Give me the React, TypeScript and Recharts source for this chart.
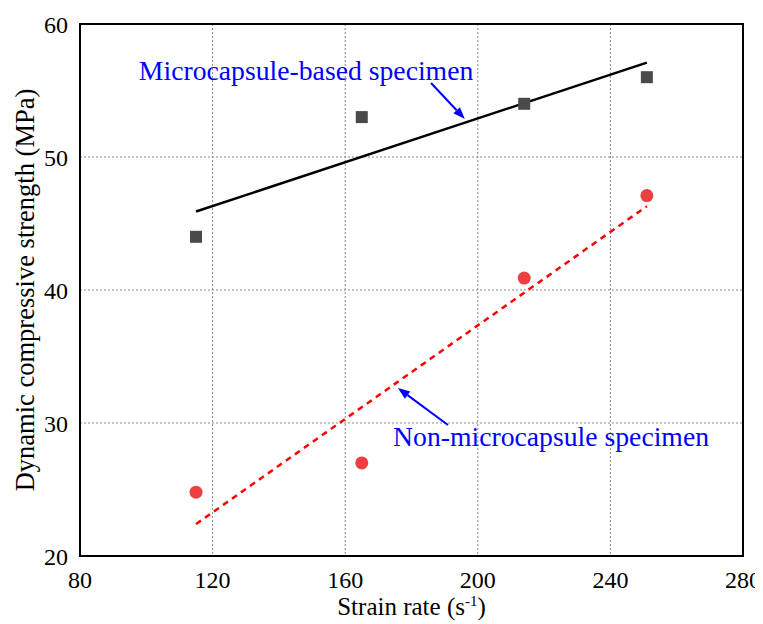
import React from 'react';
import {
  ComposedChart, Scatter, XAxis, YAxis, CartesianGrid, ReferenceArea, ReferenceLine, ReferenceDot, Label,
} from 'recharts';

const strainRate = [115, 165, 214, 251];
const microStrength = [44, 53, 54, 56];
const nonStrength = [24.8, 27, 40.9, 47.1];
const fitX = [115, 251];
const microFit = [45.9, 57.1];
const nonFit = [22.4, 46.3];
const xTicks = [80, 120, 160, 200, 240, 280];
const yTicks = [20, 30, 40, 50, 60];

const microLabel = 'Microcapsule-based specimen';
const nonLabel = 'Non-microcapsule specimen';
const yAxisTitle = 'Dynamic compressive strength (MPa)';
const microLabelPos = { x: 148.2, y: 56.54 };
const nonLabelPos = { x: 222.1, y: 28.95 };
const microArrow = [{ x: 185.9, y: 55.56 }, { x: 196.1, y: 52.86 }];
const nonArrow = [{ x: 191, y: 29.85 }, { x: 175.9, y: 32.63 }];

const microData = strainRate.map((x, i) => ({ x, y: microStrength[i] }));
const nonData = strainRate.map((x, i) => ({ x, y: nonStrength[i] }));
const microFitData = fitX.map((x, i) => ({ x, y: microFit[i] }));
const nonFitData = fitX.map((x, i) => ({ x, y: nonFit[i] }));

const FONT = "'Liberation Serif', 'Times New Roman', serif";

const Arrow = (p: any) => {
  const { x1, y1, x2, y2 } = p;
  const dx = x2 - x1, dy = y2 - y1;
  const len = Math.sqrt(dx * dx + dy * dy) || 1;
  const ux = dx / len, uy = dy / len;
  const hl = 12, hw = 4.5;
  const bx = x2 - ux * hl, by = y2 - uy * hl;
  const pts = `${x2},${y2} ${bx - uy * hw},${by + ux * hw} ${bx + uy * hw},${by - ux * hw}`;
  return (
    <g>
      <line x1={x1} y1={y1} x2={bx} y2={by} stroke="#0000ff" strokeWidth={2} />
      <polygon points={pts} fill="#0000ff" />
    </g>
  );
};

const textShape = (txt: string) => (p: any) => (
  <text x={p.cx} y={p.cy} textAnchor="middle" dominantBaseline="central" fill="#0000ff"
    style={{ fontSize: 27.7, fontFamily: FONT }}>
    {txt}
  </text>
);

const square = (p: any) => <rect x={p.cx - 6} y={p.cy - 6} width={12} height={12} fill="#4a4a4a" />;
const circle = (p: any) => <circle cx={p.cx} cy={p.cy} r={6.5} fill="#ec4040" />;
const none = () => <g />;

const XTick = (p: any) => (
  <text x={p.x} y={p.y} dy="0.71em" textAnchor="middle" fill="#000" style={{ fontSize: 24, fontFamily: FONT }}>
    {p.payload.value}
  </text>
);
const YTick = (p: any) => (
  <text x={p.x} y={p.y} dy="0.355em" textAnchor="end" fill="#000" style={{ fontSize: 24, fontFamily: FONT }}>
    {p.payload.value}
  </text>
);

const XLabel = (p: any) => {
  const vb = p.viewBox;
  return (
    <text x={vb.x + vb.width / 2} y={vb.y + vb.height - 1} textAnchor="middle" fill="#000"
      style={{ fontSize: 25, fontFamily: FONT }}>
      Strain rate (s<tspan dy={-9} style={{ fontSize: 15 }}>-1</tspan><tspan dy={9}>)</tspan>
    </text>
  );
};

const YLabel = (p: any) => {
  const vb = p.viewBox;
  const cx = vb.x + 5;
  const cy = vb.y + vb.height / 2;
  return (
    <text x={cx} y={cy} transform={`rotate(-90 ${cx} ${cy})`} textAnchor="middle" dominantBaseline="central"
      fill="#000" style={{ fontSize: 26.5, fontFamily: FONT }}>
      {yAxisTitle}
    </text>
  );
};

export default function App() {
  return (
    <div style={{ fontFamily: FONT }}>
      <ComposedChart width={755} height={616} margin={{ top: 16, right: 20, bottom: 8, left: 12 }}>
        <CartesianGrid stroke="#888" strokeDasharray="2 2" strokeWidth={1} />
        <XAxis
          type="number" dataKey="x" domain={[80, 280]} ticks={xTicks} allowDataOverflow
          height={60} tickLine={false} axisLine={{ stroke: '#000', strokeWidth: 2 }}
          tick={<XTick />} tickMargin={9}
        >
          <Label content={<XLabel />} />
        </XAxis>
        <YAxis
          type="number" dataKey="y" domain={[20, 60]} ticks={yTicks} allowDataOverflow
          width={60} tickLine={false} axisLine={{ stroke: '#000', strokeWidth: 2 }}
          tick={<YTick />} tickMargin={6}
        >
          <Label content={<YLabel />} />
        </YAxis>
        <ReferenceArea x1={80} x2={280} y1={20} y2={60} fill="none" fillOpacity={0} stroke="#000" strokeWidth={2} />
        <Scatter data={microFitData} shape={none} line={{ stroke: '#000', strokeWidth: 2.5 }} isAnimationActive={false} />
        <Scatter data={nonFitData} shape={none} line={{ stroke: '#ff0000', strokeWidth: 2.5, strokeDasharray: '6 5' }} isAnimationActive={false} />
        <Scatter data={microData} shape={square} isAnimationActive={false} />
        <Scatter data={nonData} shape={circle} isAnimationActive={false} />
        <ReferenceLine segment={microArrow} shape={Arrow} />
        <ReferenceLine segment={nonArrow} shape={Arrow} />
        <ReferenceDot x={microLabelPos.x} y={microLabelPos.y} shape={textShape(microLabel)} />
        <ReferenceDot x={nonLabelPos.x} y={nonLabelPos.y} shape={textShape(nonLabel)} />
      </ComposedChart>
    </div>
  );
}
